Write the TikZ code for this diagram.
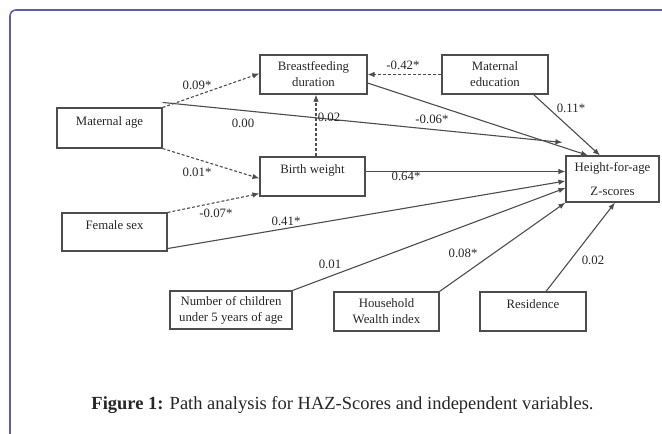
\documentclass[tikz,border=0pt]{standalone}
\usepackage{fontspec}
\setmainfont{Liberation Serif}
\usetikzlibrary{arrows.meta}
\definecolor{frame}{HTML}{5C5CA8}
\definecolor{ink}{HTML}{262626}
\definecolor{edge}{HTML}{4D4D4D}
\tikzset{
  box/.style   ={draw=edge, line width=1.1pt, inner sep=0pt, align=center,
                 text=ink, font=\fontsize{12.8}{16}\selectfont},
  % single line sits in the upper half of its box
  upper/.style ={box, text depth=14pt},
  lbl/.style   ={text=ink, inner sep=0pt, font=\fontsize{12.8}{15}\selectfont},
  flow/.style  ={-{Latex[length=7pt,width=5.5pt]}, edge, line width=1.1pt},
  dflow/.style ={flow, dash pattern=on 3pt off 2pt},
}
\begin{document}
\begin{tikzpicture}[x=1pt,y=-1pt]
    \useasboundingbox (0,0) rectangle (662,434);
    \draw[frame, line width=1.6pt, rounded corners=6pt] (10,445) |- (675,10);
    \node[upper, minimum width=105, minimum height=40] (mage) at (109.5,128) {Maternal age};
    \node[box, minimum width=107, minimum height=39] (bf) at (313.5,74.5) {Breastfeeding\\duration};
    \node[box, minimum width=106, minimum height=39] (medu) at (495,74.5) {Maternal\\education};
    \node[upper, minimum width=105, minimum height=39] (bw) at (312.5,176.5) {Birth weight};
    \node[upper, minimum width=105, minimum height=38] (fsex) at (114.5,232) {Female sex};
    \node[box, minimum width=93, minimum height=46] (haz) at (612.5,179) {Height-for-age\\[8pt]Z-scores};
    \node[box, minimum width=122, minimum height=38] (nch) at (231,310) {Number of children\\under 5 years of age};
    \node[box, minimum width=105, minimum height=39] (hh) at (386.5,311.5) {Household\\Wealth index};
    \node[upper, minimum width=106, minimum height=39] (res) at (533,311.5) {Residence};
    \draw[dflow] (mage.north east) -- ([yshift=1pt]bf.west);
    \draw[dflow] (mage.south east) -- ([yshift=-2pt]bw.west);
    \draw[dflow] (fsex.north east) -- ([yshift=3pt]bw.south west);
    \draw[dflow] (medu.west) -- (bf.east);
    \draw[dflow] ([xshift=3.5pt]bw.north) -- ([xshift=2.5pt]bf.south);
    \draw[flow] ([yshift=5pt]mage.north east) -- ([shift={(-3pt,13pt)}]haz.north west);
    \draw[flow] ([yshift=-8.5pt]bf.east) -- ([xshift=-24.5pt]haz.north);
    \draw[flow] ([xshift=-15pt]medu.south east) -- ([xshift=-12.5pt]haz.north);
    \draw[flow] ([yshift=5pt]bw.east) -- ([yshift=5pt]bw.east -| haz.west);
    \draw[flow] ([yshift=3pt]fsex.south east) -- ([yshift=-2pt]haz.west);
    \draw[flow] (nch.north east) -- ([yshift=-9pt]haz.west);
    \draw[flow] (hh.north east) -- (haz.south west);
    \draw[flow] ([xshift=13pt]res.north) -- ([xshift=2.5pt]haz.south);
    \node[lbl] (l1) at (197,85)  {0.09*};
    \node[lbl] (l2) at (243,123) {0.00};
    \node[lbl] (l3) at (329,117) {0.02};
    \node[lbl] (l4) at (432,119) {-0.06*};
    \node[lbl] (l5) at (571,108) {0.11*};
    \node[lbl] (l6) at (403,65)  {-0.42*};
    \node[lbl] (l7) at (197,172) {0.01*};
    \node[lbl] (l8) at (216,213) {-0.07*};
    \node[lbl] (l9) at (286,221) {0.41*};
    \node[lbl] (l10) at (406,176) {0.64*};
    \node[lbl] (l11) at (330,264) {0.01};
    \node[lbl] (l12) at (463,253) {0.08*};
    \node[lbl] (l13) at (593,260) {0.02};
    \node[text=ink, font=\fontsize{18.5}{22}\selectfont] (cap) at (342.5,405)
      {\textbf{Figure 1:} Path analysis for HAZ-Scores and independent variables.};
  \end{tikzpicture}
\end{document}
